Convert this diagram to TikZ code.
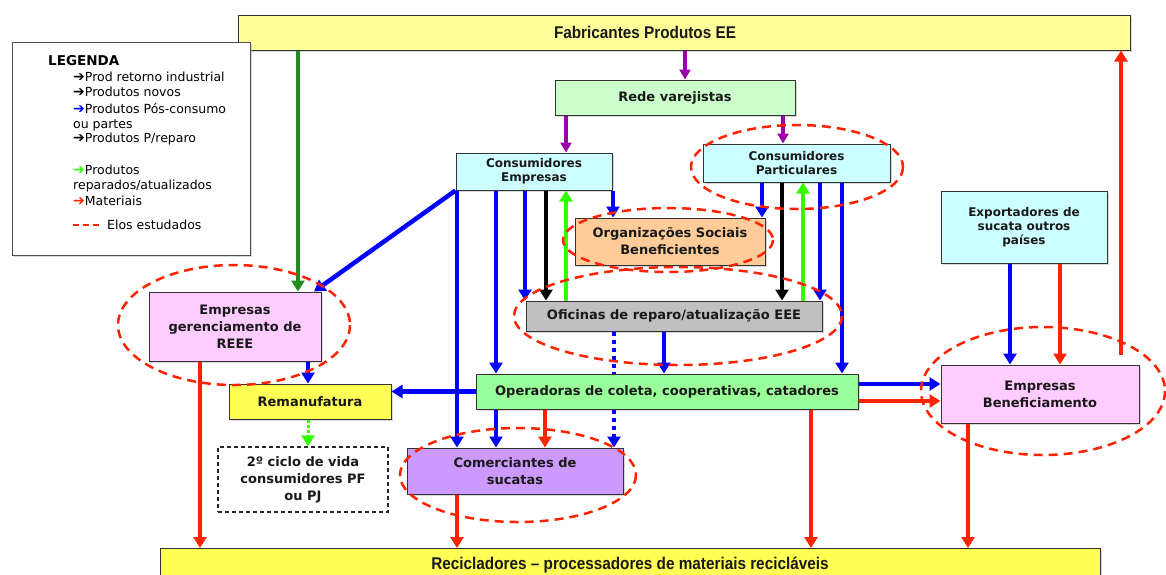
\documentclass[tikz,border=0pt]{standalone}
\usepackage{fontspec}
\setmainfont{DejaVu Sans}
\newfontfamily\narrowfont[FakeStretch=0.9]{Liberation Sans}
\usetikzlibrary{arrows.meta,shadows}

\definecolor{fabyellow}{HTML}{FFFF99}
\definecolor{recyellow}{HTML}{FFFF55}
\definecolor{varejo}{HTML}{CCFFCC}
\definecolor{consum}{HTML}{CCFFFF}
\definecolor{ongs}{HTML}{FFCC99}
\definecolor{oficina}{HTML}{C0C0C0}
\definecolor{gestao}{HTML}{FFCCFF}
\definecolor{coleta}{HTML}{99FF99}
\definecolor{comerc}{HTML}{CC99FF}
\definecolor{blueflow}{HTML}{0000FF}
\definecolor{redflow}{HTML}{FF2200}
\definecolor{greenflow}{HTML}{33FF00}
\definecolor{darkgreenflow}{HTML}{1E8C1E}
\definecolor{purpleflow}{HTML}{9900AA}

\newcommand{\legarrow}[1]{\textcolor{#1}{\fontsize{14}{14}\selectfont\bfseries ➔}}

\begin{document}
\begin{tikzpicture}[
    x=1pt, y=-1pt,
    % Base text style of every box
    node base/.style={
        rectangle, align=center, inner sep=2pt, text=black!90,
        font=\bfseries\fontsize{13}{17}\selectfont
    },
    % Filled box with shadow
    box/.style={
        node base, draw=black!80, line width=1pt, fill=#1,
        drop shadow={shadow xshift=1.5pt, shadow yshift=-1.5pt, fill=black!30}
    },
    small box/.style={box=#1, font=\bfseries\fontsize{12}{14}\selectfont},
    wide box/.style={box=#1, font=\narrowfont\bfseries\fontsize{17}{20}\selectfont},
    wide label/.style={text=black!90, font=\narrowfont\bfseries\fontsize{17}{20}\selectfont},
    open box/.style={
        node base, draw=black!85, line width=1.2pt,
        dash pattern=on 4pt off 3pt, fill=white
    },
    % Legend
    legend box/.style={
        rectangle, draw=black!70, line width=1pt, fill=white,
        drop shadow={shadow xshift=1.5pt, shadow yshift=-1.5pt, fill=black!30}
    },
    legend title/.style={anchor=west, inner sep=0pt,
        font=\bfseries\fontsize{13.5}{15}\selectfont},
    legend item/.style={anchor=west, inner sep=0pt,
        font=\fontsize{12.5}{14}\selectfont},
    % Flow styles
    flow/.style={-{Triangle[length=11pt,width=13pt]}, line width=4.5pt},
    poscons/.style={flow, draw=blueflow},
    materiais/.style={flow, draw=redflow},
    reparo/.style={flow, draw=black},
    reparados/.style={flow, line width=4pt, draw=greenflow},
    novos/.style={-{Triangle[length=10pt,width=11pt]}, line width=3.5pt, draw=purpleflow},
    industrial/.style={flow, line width=4pt, draw=darkgreenflow},
    % Studied links
    elo/.style={draw=redflow, line width=2.5pt, dash pattern=on 9pt off 6pt}
]
\useasboundingbox (0,0) rectangle (1166,574);

% --- Boxes ---
\node[box=fabyellow, minimum width=892pt, minimum height=35pt,
    label={[wide label, xshift=-39pt]center:Fabricantes Produtos EE}] (fab) at (684,32.5) {};
\node[box=varejo, minimum width=240pt, minimum height=35pt] (rede) at (675,97.5) {Rede varejistas};
\node[small box=consum, minimum width=156pt, minimum height=37pt] (ce) at (534,171.5) {Consumidores\\Empresas};
\node[small box=consum, minimum width=187pt, minimum height=38pt] (cp) at (796.5,163) {Consumidores\\Particulares};
\node[box=ongs, minimum width=190pt, minimum height=47pt] (osb) at (670,241.5) {Organizações Sociais\\Beneficientes};
\node[box=oficina, minimum width=296pt, minimum height=30pt] (ofi) at (674,316) {Oficinas de reparo/atualização EEE};
\node[box=gestao, minimum width=172pt, minimum height=69pt] (ger) at (235,326.5) {Empresas\\gerenciamento de\\REEE};
\node[box=recyellow, minimum width=162pt, minimum height=35pt] (rem) at (310,401.5) {Remanufatura};
\node[open box, minimum width=170pt, minimum height=65pt] (ciclo) at (303,479.5) {2º ciclo de vida\\consumidores PF\\ou PJ};
\node[box=coleta, minimum width=382pt, minimum height=35pt] (ope) at (667,391.5) {Operadoras de coleta, cooperativas, catadores};
\node[box=comerc, minimum width=216pt, minimum height=46pt] (com) at (515,471) {Comerciantes de\\sucatas};
\node[small box=consum, minimum width=166pt, minimum height=72pt] (exp) at (1024,227) {Exportadores de\\sucata outros\\países};
\node[box=gestao, minimum width=198pt, minimum height=58pt] (ben) at (1040,394) {Empresas\\Beneficiamento};
\node[wide box=recyellow, minimum width=940pt, minimum height=34pt, anchor=north] (rec) at (630,548) {Recicladores – processadores de materiais recicláveis};

% --- Legend ---
\node[legend box, minimum width=238pt, minimum height=213pt] (leg) at (131,148.5) {};
\node[legend title] (leg title) at (48,61) {LEGENDA};
\node[legend item] (leg ind) at (73,77) {\legarrow{black}Prod retorno industrial};
\node[legend item] (leg nov) at (73,92) {\legarrow{black}Produtos novos};
\node[legend item] (leg pos) at (73,109) {\legarrow{blueflow}Produtos Pós-consumo};
\node[legend item] (leg pos2) at (73,125) {ou partes};
\node[legend item] (leg rep) at (73,139) {\legarrow{black}Produtos P/reparo};
\node[legend item] (leg atu) at (73,170) {\legarrow{greenflow}Produtos};
\node[legend item] (leg atu2) at (73,186) {reparados/atualizados};
\node[legend item] (leg mat) at (73,201) {\legarrow{redflow}Materiais};
\coordinate (leg elo) at (73,225);
\draw[elo, line width=2pt, dash pattern=on 6pt off 4pt] (leg elo) -- ++(27,0);
\node[legend item] (leg elo text) at (107,225) {Elos estudados};

% --- Produtos novos ---
\draw[novos] (685,0 |- fab.south) -- (685,0 |- rede.north);
\draw[novos] (566,0 |- rede.south) -- (566,0 |- ce.north);
\draw[novos] (783,0 |- rede.south) -- (783,0 |- cp.north);

% --- Retorno industrial ---
\draw[industrial] (298,0 |- fab.south) -- (298,0 |- ger.north);

% --- Pos-consumo ---
\draw[poscons] (ce.south west) -- (314,0 |- ger.north);
\draw[poscons] (457,0 |- ce.south) -- (457,0 |- com.north);
\draw[poscons] (496,0 |- ce.south) -- (496,0 |- ope.north);
\draw[poscons] (525,0 |- ce.south) -- (525,0 |- ofi.north);
\draw[poscons] (613,0 |- ce.south) -- (613,0 |- osb.north);
\draw[poscons] (762,0 |- cp.south) -- (762,0 |- osb.north);
\draw[poscons] (820,0 |- cp.south) -- (820,0 |- ofi.north);
\draw[poscons] (842,0 |- cp.south) -- (842,0 |- ope.north);
\draw[poscons] (664,0 |- ofi.south) -- (664,0 |- ope.north);
\draw[poscons, -, dash pattern=on 4pt off 4pt] (614,0 |- ofi.south) -- (614,0 |- ope.north);
\draw[poscons, dash pattern=on 4pt off 4pt] (614,0 |- ope.south) -- (614,0 |- com.north);
\draw[poscons] (496,0 |- ope.south) -- (496,0 |- com.north);
\draw[poscons] (ope.west) -- (ope.west -| rem.east);
\draw[poscons] (308,0 |- ger.south) -- (308,0 |- rem.north);
\draw[poscons] (1010,0 |- exp.south) -- (1010,0 |- ben.north);
\draw[poscons] (ope.east |- 0,384) -- (ben.west |- 0,384);

% --- P/reparo ---
\draw[reparo] (546,0 |- ce.south) -- (546,0 |- ofi.north);
\draw[reparo] (782,0 |- cp.south) -- (782,0 |- ofi.north);

% --- Reparados/atualizados ---
\draw[reparados] (566,0 |- ofi.north) -- (566,0 |- ce.south);
\draw[reparados] (803,0 |- ofi.north) -- (803,0 |- cp.south);
\draw[reparados, line width=3pt, dash pattern=on 3pt off 2pt] (308,0 |- rem.south) -- (308,0 |- ciclo.north);

% --- Materiais ---
\draw[materiais] (200,0 |- ger.south) -- (200,0 |- rec.north);
\draw[materiais] (457,0 |- com.south) -- (457,0 |- rec.north);
\draw[materiais] (545,0 |- ope.south) -- (545,0 |- com.north);
\draw[materiais] (811,0 |- ope.south) -- (811,0 |- rec.north);
\draw[materiais] (968,0 |- ben.south) -- (968,0 |- rec.north);
\draw[materiais] (1060,0 |- exp.south) -- (1060,0 |- ben.north);
\draw[materiais] (ope.east |- 0,401) -- (ben.west |- 0,401);
\coordinate (ret start) at (1121,355);
\draw[materiais] (ret start) -- (ret start |- fab.south);

% --- Elos estudados ---
\draw[elo] (234,325) ellipse [x radius=116, y radius=60];
\draw[elo] (797,167) ellipse [x radius=106, y radius=42];
\draw[elo] (668,240) ellipse [x radius=105, y radius=32];
\draw[elo] (678,316) ellipse [x radius=164, y radius=49];
\draw[elo] (518,475) ellipse [x radius=118, y radius=47];
\draw[elo] (1043,391) ellipse [x radius=122, y radius=64];

\end{tikzpicture}
\end{document}
